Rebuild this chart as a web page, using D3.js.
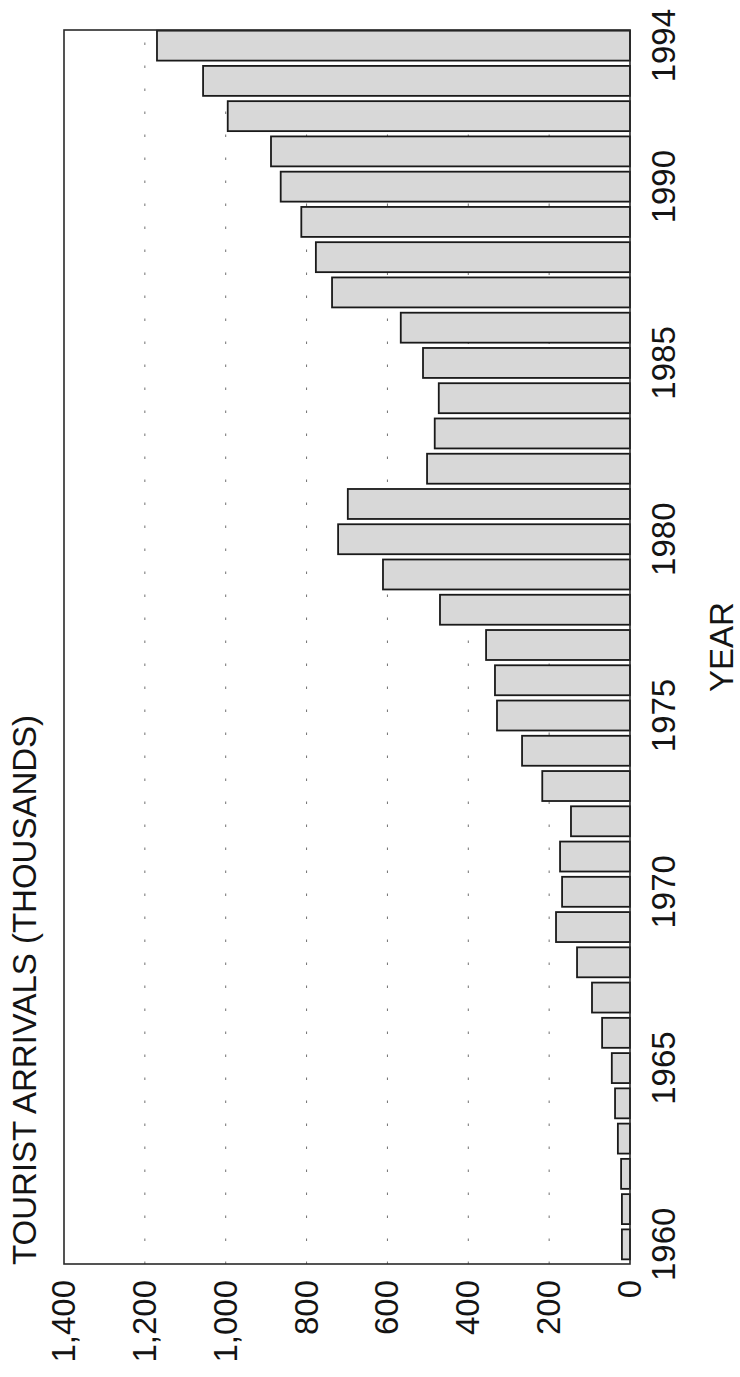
<!DOCTYPE html>
<html>
<head>
<meta charset="utf-8">
<script src="https://cdn.jsdelivr.net/npm/d3@7"></script>
<style>
  html, body { margin: 0; padding: 0; background: #ffffff; }
  svg { display: block; }
  text { font-family: "Liberation Sans", Arial, Helvetica, sans-serif; fill: #141414; }
</style>
</head>
<body>
<div id="chart"></div>
<script>
// ---- data ----
const years = [1960, 1961, 1962, 1963, 1964, 1965, 1966, 1967, 1968, 1969,
               1970, 1971, 1972, 1973, 1974, 1975, 1976, 1977, 1978, 1979,
               1980, 1981, 1982, 1983, 1984, 1985, 1986, 1987, 1988, 1989,
               1990, 1991, 1992, 1993, 1994];
const arrivals = [20, 20, 22, 30, 37, 45, 69, 94, 131, 183,
                  168, 173, 146, 217, 267, 329, 334, 356, 470, 611,
                  722, 698, 502, 483, 473, 512, 567, 737, 777, 813,
                  864, 888, 995, 1056, 1170];
const yearTicks = [1960, 1965, 1970, 1975, 1980, 1985, 1990, 1994];
const valueTicks = [0, 200, 400, 600, 800, 1000, 1200, 1400];
const gridValues = [200, 400, 600, 800, 1000, 1200];
const titleText = "TOURIST ARRIVALS (THOUSANDS)";
const xTitle = "YEAR";

// ---- layout (chart drawn un-rotated in a 1377 x 740 space, then turned) ----
const W = 740, H = 1377;
const plot = { left: 113, right: 1347, top: 64, bottom: 630 };

const svg = d3.select("#chart").append("svg")
  .attr("width", W).attr("height", H);

const g = svg.append("g")
  .attr("transform", `translate(0,${H}) rotate(-90)`);

const x = d3.scaleBand()
  .domain(years)
  .range([plot.left + 2, plot.right + 2])
  .paddingInner(0.15)
  .paddingOuter(0.075);

const y = d3.scaleLinear()
  .domain([0, 1400])
  .range([plot.bottom, plot.top]);

// gridlines
g.append("g").selectAll("line")
  .data(gridValues)
  .join("line")
  .attr("x1", plot.left).attr("x2", plot.right)
  .attr("y1", d => y(d)).attr("y2", d => y(d))
  .attr("stroke", "#707070")
  .attr("stroke-width", 1)
  .attr("stroke-dasharray", "2.5 20.5");

// bars
g.append("g").selectAll("rect")
  .data(years.map((yr, i) => ({ yr, v: arrivals[i] })))
  .join("rect")
  .attr("x", d => x(d.yr))
  .attr("width", x.bandwidth())
  .attr("y", d => y(d.v))
  .attr("height", d => y(0) - y(d.v))
  .attr("fill", "#d8d8d8")
  .attr("stroke", "#1a1a1a")
  .attr("stroke-width", 1.8);

// frame
g.append("rect")
  .attr("x", plot.left).attr("y", plot.top)
  .attr("width", plot.right - plot.left)
  .attr("height", plot.bottom - plot.top)
  .attr("fill", "none")
  .attr("stroke", "#2a2a2a")
  .attr("stroke-width", 1.6);

// value axis
const yAxis = g.append("g")
  .attr("transform", `translate(${plot.left},0)`)
  .call(d3.axisLeft(y).tickValues(valueTicks).tickFormat(d3.format(",")).tickSize(0).tickPadding(16));
yAxis.select(".domain").remove();
yAxis.selectAll("text").style("font-size", "33px").attr("fill", "#141414");

// year axis
const xAxis = g.append("g")
  .attr("transform", `translate(0,${plot.bottom})`)
  .call(d3.axisBottom(x).tickValues(yearTicks).tickSize(0).tickPadding(22));
xAxis.select(".domain").remove();
xAxis.selectAll("text").style("font-size", "33px").attr("fill", "#141414");

// titles
g.append("text")
  .attr("x", plot.left - 1)
  .attr("y", 36)
  .attr("text-anchor", "start")
  .style("font-size", "33px")
  .text(titleText);

g.append("text")
  .attr("x", (plot.left + plot.right) / 2)
  .attr("y", 733)
  .attr("text-anchor", "middle")
  .style("font-size", "33px")
  .text(xTitle);
</script>
</body>
</html>
